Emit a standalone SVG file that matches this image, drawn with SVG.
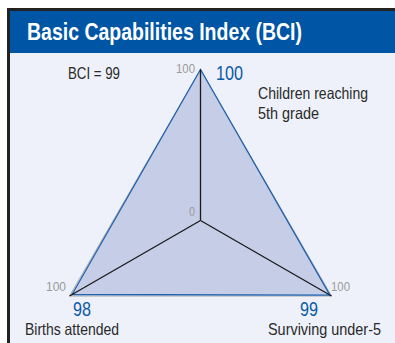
<svg xmlns="http://www.w3.org/2000/svg" width="395" height="343" viewBox="0 0 395 343">
<style>
text{font-family:"Liberation Sans",Arial,sans-serif}
.lbl{fill:#2a2a2a;font-size:16.5px}
.val{fill:#0a5aa8;font-size:20px}
.scale{fill:#9a9a9a;font-size:13px}
.axis{stroke:#1a1a1a;stroke-width:1.3;fill:none}
</style>
<rect x="0" y="0" width="395" height="343" fill="#ffffff"/>
<rect x="7" y="8" width="388" height="335" fill="#222222"/>
<rect x="10" y="11" width="385" height="332" fill="#eef1f9"/>
<rect x="10" y="11" width="385" height="42" fill="#0055a4"/>
<g id="title">
<text x="27" y="40" fill="#ffffff" font-weight="bold" font-size="23" textLength="275" lengthAdjust="spacingAndGlyphs">Basic Capabilities Index (BCI)</text>
</g>
<g id="bci">
<text x="68" y="79" class="lbl" font-size="15.5" textLength="52" lengthAdjust="spacingAndGlyphs">BCI =  99</text>
</g>
<g id="chart">
<polygon points="200.5,69.5 69.5,296 331.5,296" fill="none" stroke="#a8a8a8" stroke-width="1"/>
<polygon points="200.5,69.5 72,294.5 330,295.2" fill="#c6cde7" stroke="#1f63b0" stroke-width="1.3"/>
</g>
<g id="connectors">
<line class="axis" x1="200.5" y1="220.5" x2="200.5" y2="69.5"/>
<line class="axis" x1="200.5" y1="220.5" x2="69.5" y2="296"/>
<line class="axis" x1="200.5" y1="220.5" x2="331.5" y2="296"/>
</g>
<g id="node-top">
<text x="176" y="73" class="scale" textLength="19" lengthAdjust="spacingAndGlyphs">100</text>
<text x="216" y="80" class="val" textLength="27" lengthAdjust="spacingAndGlyphs">100</text>
<text x="258" y="99" class="lbl" textLength="110" lengthAdjust="spacingAndGlyphs">Children reaching</text>
<text x="258" y="119" class="lbl" textLength="61" lengthAdjust="spacingAndGlyphs">5th grade</text>
</g>
<g id="node-center">
<text x="189" y="216" class="scale" textLength="6" lengthAdjust="spacingAndGlyphs">0</text>
</g>
<g id="node-left">
<text x="46" y="291" class="scale" textLength="20" lengthAdjust="spacingAndGlyphs">100</text>
<text x="73" y="316" class="val" textLength="18" lengthAdjust="spacingAndGlyphs">98</text>
<text x="25" y="335" class="lbl" textLength="94" lengthAdjust="spacingAndGlyphs">Births attended</text>
</g>
<g id="node-right">
<text x="331" y="291" class="scale" textLength="19" lengthAdjust="spacingAndGlyphs">100</text>
<text x="300" y="316" class="val" textLength="18" lengthAdjust="spacingAndGlyphs">99</text>
<text x="268" y="335" class="lbl" textLength="113" lengthAdjust="spacingAndGlyphs">Surviving under-5</text>
</g>
</svg>
